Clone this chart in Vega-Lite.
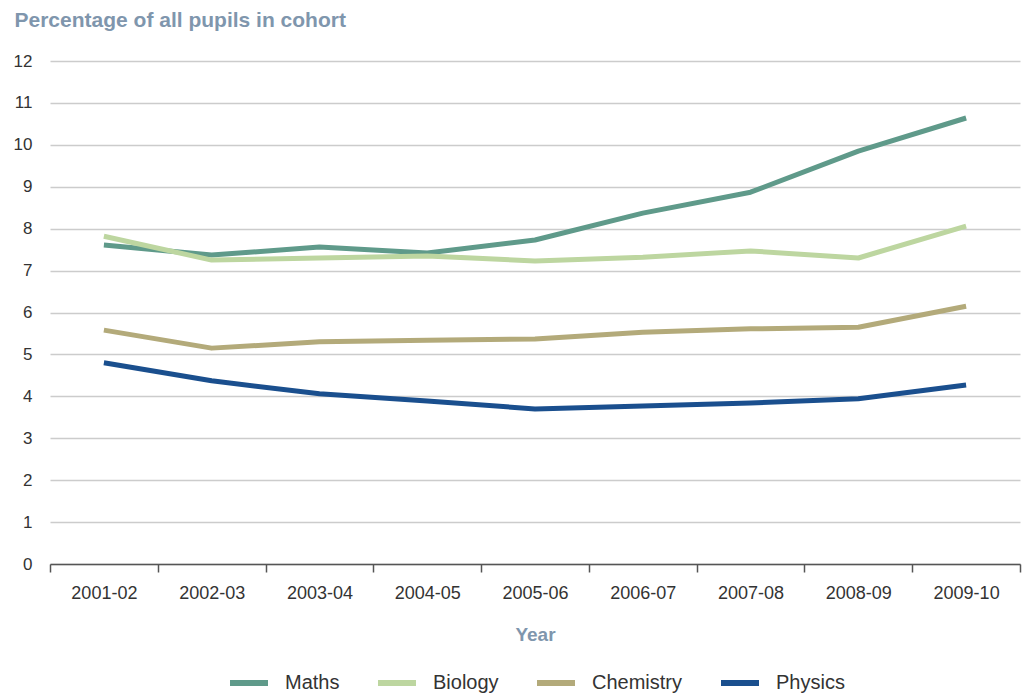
{
  "$schema": "https://vega.github.io/schema/vega-lite/v6.json",
  "width": 970,
  "height": 503,
  "autosize": {"type": "none"},
  "padding": {"left": 50, "top": 61, "right": 5, "bottom": 131},
  "background": "white",
  "config": {
    "view": {"stroke": null},
    "font": "Liberation Sans",
    "axis": {"labelFont": "Liberation Sans", "titleFont": "Liberation Sans"},
    "legend": {"labelFont": "Liberation Sans"}
  },
  "data": {
    "values": [
      {"year": "2001-02", "subject": "Maths", "pct": 7.61},
      {"year": "2002-03", "subject": "Maths", "pct": 7.37},
      {"year": "2003-04", "subject": "Maths", "pct": 7.56},
      {"year": "2004-05", "subject": "Maths", "pct": 7.42},
      {"year": "2005-06", "subject": "Maths", "pct": 7.73},
      {"year": "2006-07", "subject": "Maths", "pct": 8.37},
      {"year": "2007-08", "subject": "Maths", "pct": 8.87},
      {"year": "2008-09", "subject": "Maths", "pct": 9.85},
      {"year": "2009-10", "subject": "Maths", "pct": 10.64},
      {"year": "2001-02", "subject": "Biology", "pct": 7.82},
      {"year": "2002-03", "subject": "Biology", "pct": 7.25},
      {"year": "2003-04", "subject": "Biology", "pct": 7.3},
      {"year": "2004-05", "subject": "Biology", "pct": 7.35},
      {"year": "2005-06", "subject": "Biology", "pct": 7.23},
      {"year": "2006-07", "subject": "Biology", "pct": 7.32},
      {"year": "2007-08", "subject": "Biology", "pct": 7.47},
      {"year": "2008-09", "subject": "Biology", "pct": 7.3},
      {"year": "2009-10", "subject": "Biology", "pct": 8.06},
      {"year": "2001-02", "subject": "Chemistry", "pct": 5.58},
      {"year": "2002-03", "subject": "Chemistry", "pct": 5.15},
      {"year": "2003-04", "subject": "Chemistry", "pct": 5.3},
      {"year": "2004-05", "subject": "Chemistry", "pct": 5.34},
      {"year": "2005-06", "subject": "Chemistry", "pct": 5.37},
      {"year": "2006-07", "subject": "Chemistry", "pct": 5.53},
      {"year": "2007-08", "subject": "Chemistry", "pct": 5.61},
      {"year": "2008-09", "subject": "Chemistry", "pct": 5.65},
      {"year": "2009-10", "subject": "Chemistry", "pct": 6.15},
      {"year": "2001-02", "subject": "Physics", "pct": 4.8},
      {"year": "2002-03", "subject": "Physics", "pct": 4.37},
      {"year": "2003-04", "subject": "Physics", "pct": 4.06},
      {"year": "2004-05", "subject": "Physics", "pct": 3.89},
      {"year": "2005-06", "subject": "Physics", "pct": 3.7},
      {"year": "2006-07", "subject": "Physics", "pct": 3.77},
      {"year": "2007-08", "subject": "Physics", "pct": 3.84},
      {"year": "2008-09", "subject": "Physics", "pct": 3.94},
      {"year": "2009-10", "subject": "Physics", "pct": 4.27}
    ]
  },
  "mark": {"type": "line", "strokeWidth": 5, "strokeCap": "butt", "strokeJoin": "round"},
  "encoding": {
    "x": {
      "field": "year",
      "type": "ordinal",
      "scale": {"type": "band", "paddingInner": 0, "paddingOuter": 0},
      "axis": {
        "title": "Year",
        "titleColor": "#7f96ad",
        "titleFontSize": 19,
        "titleFontWeight": "bold",
        "titlePadding": 23,
        "labelAngle": 0,
        "labelFontSize": 18,
        "labelColor": "#333333",
        "labelPadding": 12,
        "tickBand": "extent",
        "tickSize": 8,
        "tickColor": "#555555",
        "domainColor": "#555555",
        "domainWidth": 1.5,
        "tickWidth": 1.5,
        "grid": false
      }
    },
    "y": {
      "field": "pct",
      "type": "quantitative",
      "scale": {"domain": [0, 12], "nice": false},
      "axis": {
        "title": "Percentage of all pupils in cohort",
        "titleAngle": 0,
        "titleAlign": "left",
        "titleBaseline": "alphabetic",
        "titleX": -36,
        "titleY": -35,
        "titleColor": "#7f96ad",
        "titleFontSize": 21,
        "titleFontWeight": "bold",
        "values": [0,1,2,3,4,5,6,7,8,9,10,11,12],
        "labelFontSize": 17,
        "labelColor": "#333333",
        "labelPadding": 18,
        "ticks": false,
        "domain": false,
        "grid": true,
        "gridColor": "#cccccc",
        "gridWidth": 1.5
      }
    },
    "color": {
      "field": "subject",
      "type": "nominal",
      "sort": ["Maths", "Biology", "Chemistry", "Physics"],
      "scale": {
        "domain": ["Maths", "Biology", "Chemistry", "Physics"],
        "range": ["#5f9a8a", "#bdd6a0", "#b3aa7a", "#1a4f8e"]
      },
      "legend": {
        "title": null,
        "orient": "none",
        "direction": "horizontal",
        "legendX": 177,
        "legendY": 600,
        "symbolType": "stroke",
        "symbolSize": 1444,
        "symbolStrokeWidth": 6,
        "labelFontSize": 20,
        "labelColor": "#333333",
        "labelOffset": 14,
        "columnPadding": 26,
        "labelLimit": 200
      }
    }
  }
}
